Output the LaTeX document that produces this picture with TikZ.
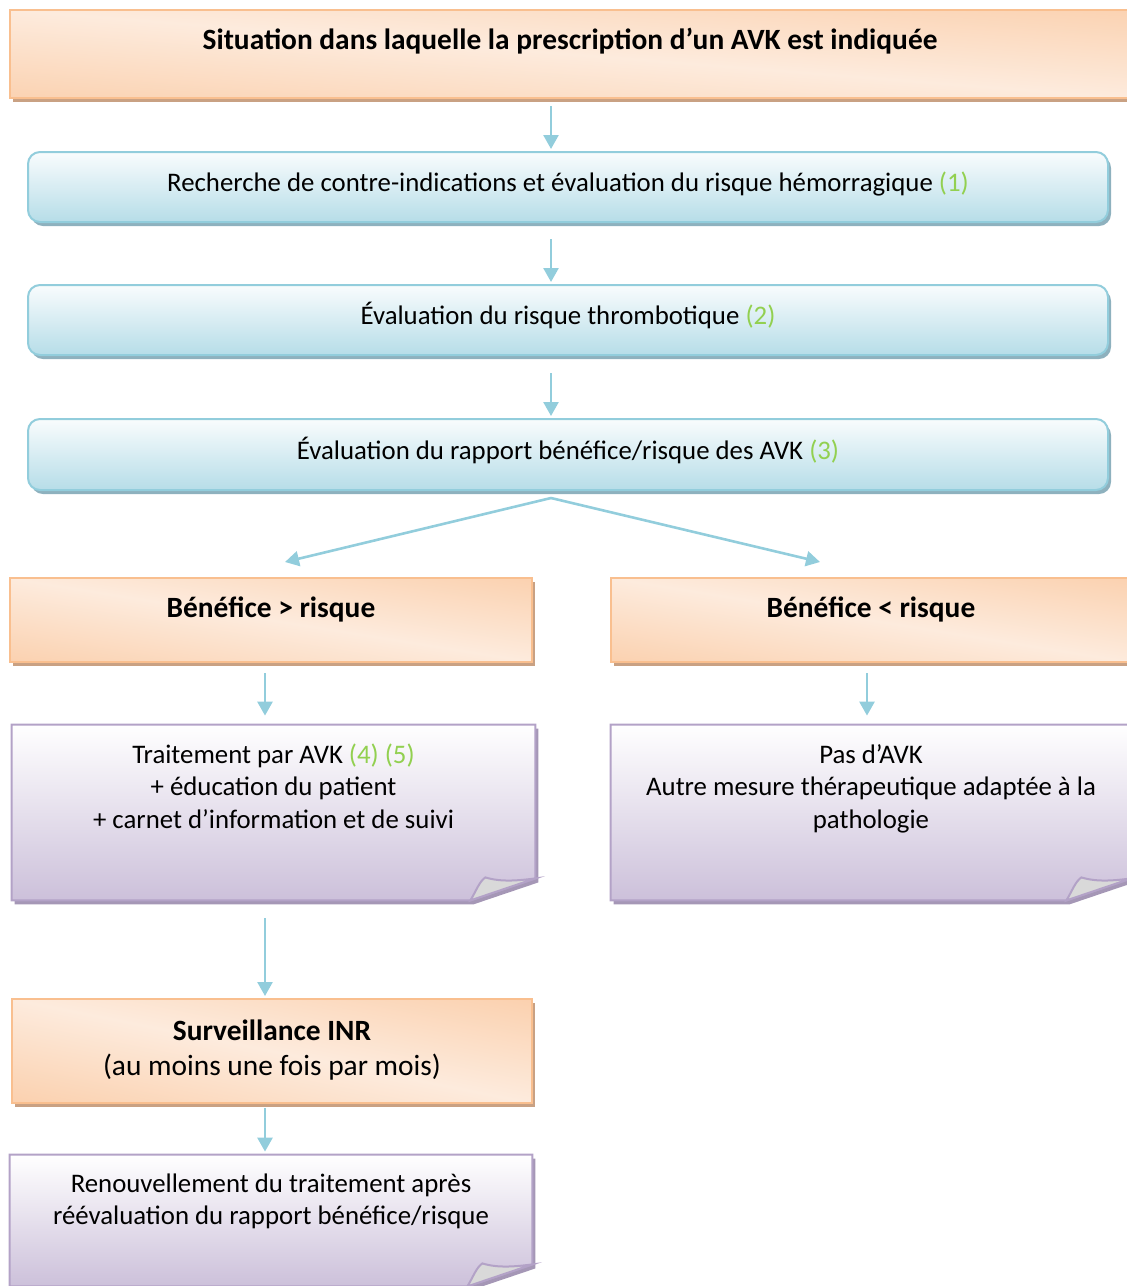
\documentclass[tikz,border=0pt]{standalone}
\usepackage{fontspec}
\setmainfont{Carlito}
\usetikzlibrary{arrows.meta,shadows,calc}

\definecolor{orgD}{HTML}{F9BE8E}
\definecolor{orgL}{HTML}{FDEBDD}
\definecolor{orgline}{HTML}{F9BF8F}
\definecolor{orgS}{HTML}{C9A183}
\definecolor{bluT}{HTML}{F9FCFD}
\definecolor{bluB}{HTML}{B6DDE8}
\definecolor{bluline}{HTML}{92CDDC}
\definecolor{bluS}{HTML}{8EB1BE}
\definecolor{purB}{HTML}{CCC0DA}
\definecolor{purline}{HTML}{B3A2C7}
\definecolor{purS}{HTML}{A597B6}
\definecolor{foldgray}{HTML}{D9D9D9}
\definecolor{arrcol}{HTML}{92CDDC}
\definecolor{refgreen}{HTML}{92D050}

\pgfdeclareverticalshading{peach}{100bp}{color(0bp)=(orgD); color(50bp)=(orgL); color(100bp)=(orgD)}
\pgfdeclarelayer{bg}
\pgfsetlayers{bg,main}

\newcommand{\refn}[1]{\textcolor{refgreen}{(#1)}}
\newcommand{\bigtxt}{\fontsize{14.7pt}{17.9pt}\selectfont}
% outline of a note with the bottom right corner turned up
\newcommand{\notepath}[1]{(#1.north west) -- (#1.north east) -- ([yshift=11pt]#1.south east) -- ([xshift=-32.5pt]#1.south east) -- (#1.south west) -- cycle}
\newcommand{\notebox}[1]{%
  \begin{pgfonlayer}{bg}
    \fill[purS, transform canvas={shift={(1.5pt,-2pt)}}] \notepath{#1};
    \shade[top color=white, bottom color=purB] \notepath{#1};
    \draw[purline, line width=1pt] \notepath{#1};
    \filldraw[fill=foldgray, draw=purline, line width=1pt] ([xshift=-32.5pt]#1.south east) .. controls +(3pt,5pt) and +(-3pt,-2pt) .. ([xshift=-25pt,yshift=11.5pt]#1.south east) .. controls +(8pt,-2.5pt) and +(-8pt,-1pt) .. ([yshift=11pt]#1.south east) -- cycle;
  \end{pgfonlayer}}

\begin{document}
\begin{tikzpicture}[x=0.5pt, y=-0.5pt,
    font=\fontsize{13.4pt}{16.25pt}\selectfont,
    orangebox/.style 2 args={draw=orgline, line width=1pt, shading=peach, shading angle=#2, minimum width=#1pt, inner sep=0pt, align=center,
      drop shadow={shadow xshift=1.5pt, shadow yshift=-2pt, fill=orgS, opacity=1}},
    bluebox/.style={draw=bluline, line width=1pt, rounded corners=6pt, top color=bluT, bottom color=bluB, inner sep=0pt, minimum width=540pt, text height=19.5pt, text depth=15.5pt, drop shadow={shadow xshift=1.5pt, shadow yshift=-2pt, fill=bluS, opacity=1}},
    notetext/.style={inner sep=0pt, align=center},
    arr/.style={-{Triangle[width=7.5pt,length=7pt]}, arrcol, line width=1.3pt}]
    \useasboundingbox (0,0) rectangle (1127,1286);

    % Spines of the arrows
    \coordinate (spine) at (551,0);
    \coordinate (lspine) at (265,0);
    \coordinate (rspine) at (867,0);

    % Boxes
    \node[orangebox={560}{-4.5}, text height=19.5pt, text depth=24.5pt] (sit) at (570,54) {\bigtxt\bfseries Situation dans laquelle la prescription d’un AVK est indiquée};
    \node[bluebox] (contra) at (568,187) {Recherche de contre-indications et évaluation du risque hémorragique \refn{1}};
    \node[bluebox] (thromb) at (568,320) {Évaluation du risque thrombotique \refn{2}};
    \node[bluebox, text height=20pt] (ratio) at (568,454.5) {Évaluation du rapport bénéfice/risque des AVK \refn{3}};

    \node[orangebox={261}{-9.1}, text height=19.5pt, text depth=22.5pt] (gt) at (271,620) {\bigtxt\bfseries Bénéfice > risque};
    \node[orangebox={260}{-9.2}, text height=19.5pt, text depth=22.5pt] (lt) at (871,620) {\bigtxt\bfseries Bénéfice < risque};

    \node[notetext, minimum width=261.5pt, text height=51.5pt, text depth=36pt] (treat) at (273.5,812.5) {Traitement par AVK \refn{4} \refn{5}\\+ éducation du patient\\+ carnet d’information et de suivi};
    \notebox{treat}
    \node[notetext, minimum width=260pt, text height=51.5pt, text depth=36pt] (noavk) at (871,812.5) {Pas d’AVK\\Autre mesure thérapeutique adaptée à la\\pathologie};
    \notebox{noavk}

    \node[orangebox={260}{-11.3}, text height=38pt, text depth=14pt] (surv) at (272,1051) {\bigtxt\bfseries Surveillance INR\\[1.1pt]\bigtxt (au moins une fois par mois)};

    \node[notetext, minimum width=261pt, text height=34.75pt, text depth=30.75pt] (renew) at (271,1220.5) {Renouvellement du traitement après\\réévaluation du rapport bénéfice/risque};
    \notebox{renew}

    % Arrows
    \coordinate (fork) at ($(ratio.south -| spine)+(0,7)$);
    \draw[arr, shorten <=3.5pt, shorten >=1pt] (sit.south -| spine) -- (contra.north -| spine);
    \draw[arr, shorten <=8pt, shorten >=1pt] (contra.south -| spine) -- (thromb.north -| spine);
    \draw[arr, shorten <=8.5pt, shorten >=1pt] (thromb.south -| spine) -- (ratio.north -| spine);
    \draw[arr] (fork) -- ([xshift=7pt,yshift=7.5pt]gt.north);
    \draw[arr] (fork) -- ([xshift=-25.5pt,yshift=7.5pt]lt.north);
    \draw[arr, shorten <=5pt, shorten >=4.5pt] (gt.south -| lspine) -- (treat.north -| lspine);
    \draw[arr, shorten <=5pt, shorten >=4.5pt] (lt.south -| rspine) -- (noavk.north -| rspine);
    \draw[arr, shorten <=9pt, shorten >=1pt] (treat.south -| lspine) -- (surv.north -| lspine);
    \draw[arr, shorten <=2pt, shorten >=1.5pt] (surv.south -| lspine) -- (renew.north -| lspine);
\end{tikzpicture}
\end{document}
